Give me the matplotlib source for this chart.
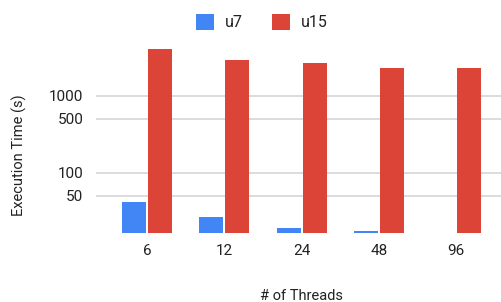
import numpy as np
import matplotlib
matplotlib.use("Agg")
from matplotlib import pyplot as plt

plt.rcParams["font.family"] = ["Roboto", "DejaVu Sans"]

threads = ["6", "12", "24", "48", "96"]
u7 = [41.8, 26.7, 19.4, 17.4, 16.0]
u15 = [4070, 2940, 2680, 2280, 2280]

fig = plt.figure(figsize=(5.02, 3.02), dpi=100)
ax = fig.add_axes([0.191, 0.2285, 0.809, 0.639])

x = np.arange(len(threads))
w = 0.31
ax.bar(x - w / 2 - 0.012, u7, width=w, color="#4285F4", label="u7", zorder=3)
ax.bar(x + w / 2 + 0.012, u15, width=w, color="#DB4437", label="u15", zorder=3)

ax.set_yscale("log")
ax.set_ylim(16.5, 5300)
ax.set_xlim(-0.66, 4.59)
ax.set_yticks([50, 100, 500, 1000])
ax.set_yticklabels(["50", "100", "500", "1000"])
ax.minorticks_off()
ax.set_xticks(x)
ax.set_xticklabels(threads)
ax.tick_params(axis="both", length=0, labelsize=11, colors="#222222")
ax.tick_params(axis="x", pad=8)
ax.tick_params(axis="y", pad=9)
ax.grid(axis="y", color="#d9d9d9", linewidth=1.3, zorder=0)
for s in ax.spines.values():
    s.set_visible(False)

ax.set_ylabel("Execution Time (s)", fontsize=10.5, color="#222222")
ax.yaxis.set_label_coords(-0.17, 0.404)
fig.text(0.601, 0.043, "# of Threads", ha="center", va="top", fontsize=10.5, color="#222222")

fig.legend(loc="upper center", bbox_to_anchor=(0.522, 1.0), ncol=2, frameon=False,
           handlelength=1.1, handleheight=1.1, columnspacing=1.8, handletextpad=0.7,
           fontsize=11.5, labelcolor="#222222")

fig.savefig("out.png", dpi=100)
